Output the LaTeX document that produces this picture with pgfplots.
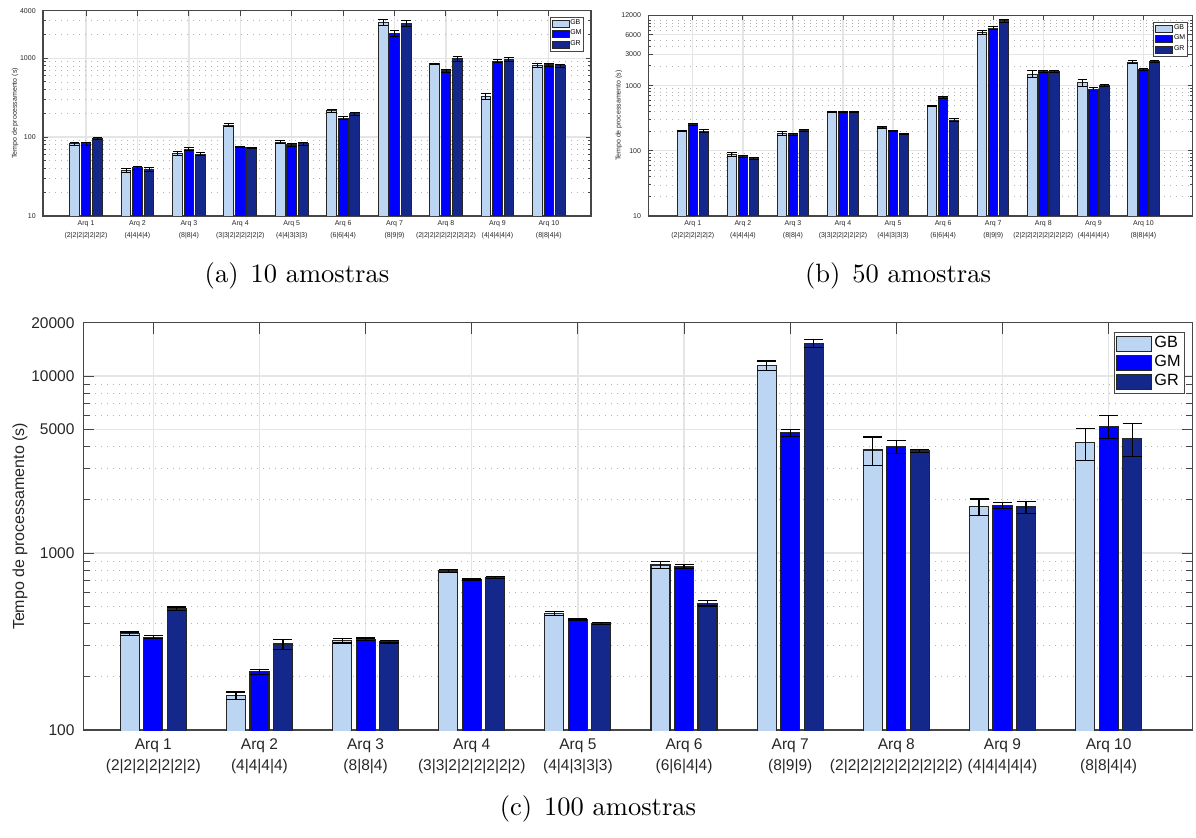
\documentclass[border=0pt]{standalone}
\usepackage{pgfplots}
\pgfplotsset{compat=1.18}
\usepackage{pgfplotstable}
\usepackage{fontspec}
\newfontfamily\arial{Liberation Sans}
\definecolor{cGB}{RGB}{187,213,242}
\definecolor{cGM}{RGB}{0,0,255}
\definecolor{cGR}{RGB}{20,40,140}
\definecolor{axgray}{RGB}{70,70,70}
\definecolor{txtgray}{RGB}{38,38,38}

% 10 amostras
\pgfplotstableread{
x gb gbe gm gme gr gre
1 82 3 82 3 97 3
2 38 2 41 2 39 2
3 62 3 70 3 61 3
4 142 6 75 2 73 2
5 86 4 80 4 82 4
6 215 8 174 7 197 7
7 2850 230 2050 180 2780 250
8 850 20 692 35 985 70
9 325 28 920 40 960 55
10 810 45 825 35 808 35
}\dataA
% 50 amostras
\pgfplotstableread{
x gb gbe gm gme gr gre
1 201 5 255 8 201 8
2 88 5 81 3 77 3
3 185 12 179 6 203 8
4 398 10 395 10 395 10
5 226 8 203 5 183 4
6 486 15 661 30 297 12
7 6560 500 7550 400 9910 500
8 1507 180 1675 60 1657 60
9 1110 150 877 50 998 40
10 2302 150 1778 70 2383 90
}\dataB
% 100 amostras
\pgfplotstableread{
x gb gbe gm gme gr gre
1 350 8 335 6 485 10
2 156 8 213 6 306 20
3 320 10 325 6 315 5
4 791 15 710 6 726 12
5 456 10 422 4 401 6
6 855 40 837 20 520 18
7 11430 720 4786 220 15300 800
8 3820 700 3990 350 3770 80
9 1828 190 1860 70 1820 140
10 4200 850 5200 750 4450 950
}\dataC

\pgfplotsset{
  matlabstyle/.style={
    scale only axis, enlargelimits=false,
    axis line style={axgray, line width=0.5pt},
    tick style={axgray, line width=0.4pt},
    tick align=inside,
    xmajorgrids, ymajorgrids, yminorgrids,
    major grid style={gray!20, line width=0.5pt},
    minor grid style={gray!60, dotted, line width=0.3pt},
    xtick={1,...,10},
    xticklabels={{Arq 1\\(2|2|2|2|2|2|2)},{Arq 2\\(4|4|4|4)},{Arq 3\\(8|8|4)},{Arq 4\\(3|3|2|2|2|2|2|2)},{Arq 5\\(4|4|3|3|3)},{Arq 6\\(6|6|4|4)},{Arq 7\\(8|9|9)},{Arq 8\\(2|2|2|2|2|2|2|2|2|2)},{Arq 9\\(4|4|4|4|4)},{Arq 10\\(8|8|4|4)}},
    ylabel={Tempo de processamento (s)},
    legend cell align=left,
  },
  legimgA/.style={legend image code/.code={\draw[##1] (0pt,-1.4pt) rectangle (6.8pt,1.4pt);}},
  legimgC/.style={legend image code/.code={\draw[##1] (0pt,-3pt) rectangle (14pt,3pt);}},
  errA/.style={forget plot, draw=none, mark=none,
    error bars/.cd, y dir=both, y explicit, error bar style={draw=black, line width=0.35pt},
    error mark=-, error mark options={draw=black, rotate=90, mark size=1.95pt, line width=0.35pt}},
  errC/.style={forget plot, draw=none, mark=none,
    error bars/.cd, y dir=both, y explicit, error bar style={draw=black, line width=0.45pt},
    error mark=-, error mark options={draw=black, rotate=90, mark size=3.8pt, line width=0.45pt}},
}

\begin{document}
\begin{tikzpicture}
\useasboundingbox (0,0) rectangle (478.4pt,334.8pt);

% ---------------- (a) ----------------
\begin{axis}[ymode=log, matlabstyle,
  at={(17.2pt,248.4pt)}, anchor=south west,
  width=219.2pt, height=82.1pt,
  xmin=0.163, xmax=10.82, ymin=10, ymax=4000,
  ytick={10,100,1000,4000}, yticklabels={10,100,1000,4000},
  minor ytick={20,30,40,50,60,70,80,90,200,300,400,500,600,700,800,900,2000,3000},
  major tick length=2pt, minor tick length=1.2pt,
  xticklabel style={align=center, font=\arial\fontsize{2.8}{4.9}\selectfont, text=txtgray, yshift=1.8pt},
  yticklabel style={font=\arial\fontsize{2.8}{3.4}\selectfont, text=txtgray, xshift=0.6pt},
  every axis y label/.style={at={(axis description cs:-0.051,0.5)}, rotate=90, anchor=center, font=\arial\fontsize{2.8}{3.4}\selectfont, text=txtgray},
  legend style={at={(0.988,0.971)}, anchor=north east, draw=axgray, fill=white, font=\arial\fontsize{2.8}{3.2}\selectfont, inner sep=0.6pt, row sep=0pt, nodes={inner sep=0.35pt}, line width=0.4pt},
]
\addplot[ybar, bar width=3.9pt, bar shift=-4.6pt, fill=cGB, draw=black!85, line width=0.35pt, legimgA] table[x=x, y=gb]{\dataA};
\addplot[ybar, bar width=3.9pt, bar shift=0pt, fill=cGM, draw=black!85, line width=0.35pt, legimgA] table[x=x, y=gm]{\dataA};
\addplot[ybar, bar width=3.9pt, bar shift=4.6pt, fill=cGR, draw=black!85, line width=0.35pt, legimgA] table[x=x, y=gr]{\dataA};
\legend{GB,GM,GR}
\addplot[errA] table[x expr=\thisrow{x}-0.2236, y=gb, y error=gbe]{\dataA};
\addplot[errA] table[x=x, y=gm, y error=gme]{\dataA};
\addplot[errA] table[x expr=\thisrow{x}+0.2236, y=gr, y error=gre]{\dataA};
\end{axis}

% ---------------- (b) ----------------
\begin{axis}[ymode=log, matlabstyle,
  at={(259.3pt,248.4pt)}, anchor=south west,
  width=217.7pt, height=80.3pt,
  xmin=0.11, xmax=10.98, ymin=10, ymax=12000,
  ytick={10,100,1000,3000,6000,12000}, yticklabels={10,100,1000,3000,6000,12000},
  minor ytick={20,30,40,50,60,70,80,90,200,300,400,500,600,700,800,900,2000,4000,5000,7000,8000,9000,10000},
  major tick length=2pt, minor tick length=1.2pt,
  xticklabel style={align=center, font=\arial\fontsize{2.8}{4.9}\selectfont, text=txtgray, yshift=1.8pt},
  yticklabel style={font=\arial\fontsize{2.8}{3.4}\selectfont, text=txtgray, xshift=0.6pt},
  every axis y label/.style={at={(axis description cs:-0.054,0.5)}, rotate=90, anchor=center, font=\arial\fontsize{2.8}{3.4}\selectfont, text=txtgray},
  legend style={at={(0.992,0.968)}, anchor=north east, draw=axgray, fill=white, font=\arial\fontsize{2.8}{3.2}\selectfont, inner sep=0.6pt, row sep=0pt, nodes={inner sep=0.35pt}, line width=0.4pt},
]
\addplot[ybar, bar width=3.75pt, bar shift=-4.4pt, fill=cGB, draw=black!85, line width=0.35pt, legimgA] table[x=x, y=gb]{\dataB};
\addplot[ybar, bar width=3.75pt, bar shift=0pt, fill=cGM, draw=black!85, line width=0.35pt, legimgA] table[x=x, y=gm]{\dataB};
\addplot[ybar, bar width=3.75pt, bar shift=4.4pt, fill=cGR, draw=black!85, line width=0.35pt, legimgA] table[x=x, y=gr]{\dataB};
\legend{GB,GM,GR}
\addplot[errA] table[x expr=\thisrow{x}-0.2197, y=gb, y error=gbe]{\dataB};
\addplot[errA] table[x=x, y=gm, y error=gme]{\dataB};
\addplot[errA] table[x expr=\thisrow{x}+0.2197, y=gr, y error=gre]{\dataB};
\end{axis}

% ---------------- (c) ----------------
\begin{axis}[ymode=log, matlabstyle,
  at={(33.3pt,42.8pt)}, anchor=south west,
  width=443.7pt, height=162.9pt,
  xmin=0.34, xmax=10.79, ymin=100, ymax=20000,
  ytick={100,1000,5000,10000,20000}, yticklabels={100,1000,5000,10000,20000},
  minor ytick={200,300,400,500,600,700,800,900,2000,3000,4000,6000,7000,8000,9000},
  major tick length=4.4pt, minor tick length=2.6pt,
  xticklabel style={align=center, font=\arial\fontsize{6.2}{8.4}\selectfont, text=txtgray},
  yticklabel style={font=\arial\fontsize{6.2}{7.4}\selectfont, text=txtgray},
  every axis y label/.style={at={(axis description cs:-0.057,0.5)}, rotate=90, anchor=center, font=\arial\fontsize{6.4}{7.8}\selectfont, text=txtgray},
  legend style={at={(0.9934,0.978)}, anchor=north east, draw=axgray, fill=white, font=\arial\fontsize{6.5}{7.8}\selectfont, inner sep=0.8pt, row sep=0pt, nodes={inner sep=0.8pt}, line width=0.5pt},
]
\addplot[ybar, bar width=7.6pt, bar shift=-9.4pt, fill=cGB, draw=black!85, line width=0.45pt, legimgC] table[x=x, y=gb]{\dataC};
\addplot[ybar, bar width=7.6pt, bar shift=0pt, fill=cGM, draw=black!85, line width=0.45pt, legimgC] table[x=x, y=gm]{\dataC};
\addplot[ybar, bar width=7.6pt, bar shift=9.4pt, fill=cGR, draw=black!85, line width=0.45pt, legimgC] table[x=x, y=gr]{\dataC};
\legend{GB,GM,GR}
\addplot[errC] table[x expr=\thisrow{x}-0.2214, y=gb, y error=gbe]{\dataC};
\addplot[errC] table[x=x, y=gm, y error=gme]{\dataC};
\addplot[errC] table[x expr=\thisrow{x}+0.2214, y=gr, y error=gre]{\dataC};
\end{axis}

% captions
\node[anchor=base, font=\fontsize{10.6}{13}\selectfont] at (118.8pt,221.6pt) {(a)\hspace{0.45em}10 amostras};
\node[anchor=base, font=\fontsize{10.6}{13}\selectfont] at (359.2pt,221.6pt) {(b)\hspace{0.45em}50 amostras};
\node[anchor=base, font=\fontsize{10.6}{13}\selectfont] at (239.2pt,8.8pt) {(c)\hspace{0.45em}100 amostras};
\end{tikzpicture}
\end{document}
